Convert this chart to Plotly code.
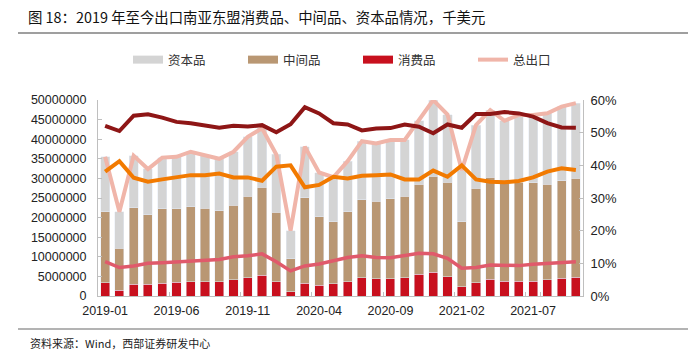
import plotly.graph_objects as go

months = ["2019-01","2019-02","2019-03","2019-04","2019-05","2019-06","2019-07","2019-08","2019-09","2019-10","2019-11","2019-12",
          "2020-01","2020-02","2020-03","2020-04","2020-05","2020-06","2020-07","2020-08","2020-09","2020-10","2020-11","2020-12",
          "2021-01","2021-02","2021-03","2021-04","2021-05","2021-06","2021-07","2021-08","2021-09","2021-10"]
tick_labels = ["2019-01","2019-06","2019-11","2020-04","2020-09","2021-02","2021-07"]

# 千美元
consumer = [3400000,1500000,3000000,3000000,3200000,3500000,3600000,3700000,3600000,4100000,4700000,5300000,
            3700000,1100000,3300000,2800000,3100000,3700000,4700000,4400000,4400000,4700000,5500000,6000000,
            4900000,2400000,3400000,4300000,3800000,3800000,3800000,4200000,4500000,4800000]
intermediate = [18100000,10700000,19500000,17700000,19100000,18700000,19200000,18700000,18100000,19100000,20800000,22400000,
                17700000,8400000,21800000,17400000,15900000,17800000,19800000,19800000,20400000,20800000,23000000,24600000,
                24100000,16600000,24100000,26000000,25400000,25200000,25100000,24300000,24900000,25200000]
capital = [14000000,9300000,13300000,11700000,13000000,13300000,14000000,13500000,13300000,13600000,15100000,15100000,
           14700000,7200000,13000000,11300000,11300000,12900000,15000000,14700000,15000000,14300000,16200000,19400000,
           17300000,13100000,16100000,17100000,15500000,17200000,17300000,18100000,18900000,19200000]
total = [35500000,21500000,35800000,32400000,35300000,35500000,36800000,35900000,35000000,36800000,40600000,42800000,
         36100000,16700000,38100000,31500000,30300000,34400000,39500000,38900000,39800000,39800000,44700000,50000000,
         46300000,32100000,43600000,47400000,44700000,46200000,46200000,46600000,48300000,49200000]

# shares (%) on right axis
share_intermediate = [52.1,50.5,55.2,55.6,54.6,53.3,52.9,52.3,51.5,52.1,51.9,52.3,50.1,52.6,57.8,55.9,52.9,52.5,50.7,51.3,
                      51.4,52.5,51.8,49.8,52.5,51.5,55.7,55.7,56.3,55.9,54.9,52.9,51.6,51.5]
share_capital = [38.1,41.3,36.2,35.0,35.7,36.5,37.0,37.0,37.5,36.3,36.3,35.3,39.6,40.0,33.3,34.0,36.5,36.0,36.8,37.0,
                 37.2,35.7,35.7,38.4,36.5,40.0,35.7,35.0,34.8,35.2,36.3,38.1,39.1,38.6]
share_consumer = [10.5,8.7,9.2,10.0,10.2,10.5,10.6,11.0,11.2,12.0,12.3,12.9,10.5,7.7,9.2,9.8,10.8,11.8,12.3,11.8,
                  11.7,12.5,13.1,12.9,11.5,8.5,8.7,9.5,9.3,9.3,9.7,10.0,10.2,10.5]

C_GRAY = "#d4d4d4"
C_TAN = "#b99773"
C_RED = "#c8101e"
C_PINK = "#f0b5a9"
C_DARK = "#8e1616"
C_ORANGE = "#f27a00"
C_REDLINE = "#e05a6b"

fig = go.Figure()
fig.add_trace(go.Bar(x=months, y=consumer, marker_color=C_RED, showlegend=False, name="消费品"))
fig.add_trace(go.Bar(x=months, y=intermediate, marker_color=C_TAN, showlegend=False, name="中间品"))
fig.add_trace(go.Bar(x=months, y=capital, marker_color=C_GRAY, showlegend=False, name="资本品"))
fig.add_trace(go.Scatter(x=months, y=total, mode="lines", line=dict(color=C_PINK, width=4), showlegend=False, name="总出口"))
fig.add_trace(go.Scatter(x=months, y=[v/100 for v in share_intermediate], yaxis="y2", mode="lines",
                         line=dict(color=C_DARK, width=4), showlegend=False))
fig.add_trace(go.Scatter(x=months, y=[v/100 for v in share_capital], yaxis="y2", mode="lines",
                         line=dict(color=C_ORANGE, width=4), showlegend=False))
fig.add_trace(go.Scatter(x=months, y=[v/100 for v in share_consumer], yaxis="y2", mode="lines",
                         line=dict(color=C_REDLINE, width=3.5), showlegend=False))

# legend entries
for nm, col, w in [("资本品", C_GRAY, 8), ("中间品", C_TAN, 8), ("消费品", C_RED, 8), ("总出口", C_PINK, 4)]:
    fig.add_trace(go.Scatter(x=[months[0]], y=[None], mode="lines", line=dict(color=col, width=w), name=nm, showlegend=True))

L, R, T, B = 98, 105, 100, 63
PW, PH = 688 - L - R, 359 - T - B

def px_x(p):
    return (p - L) / PW

def px_y(p):
    return (359 - B - p) / PH

fig.update_layout(
    width=688, height=359,
    margin=dict(l=L, r=R, t=T, b=B, autoexpand=False),
    paper_bgcolor="white", plot_bgcolor="white",
    barmode="stack", bargap=0.36,
    font=dict(family="Liberation Sans, Arial", color="#222222"),
    title=dict(text="图 18：2019 年至今出口南亚东盟消费品、中间品、资本品情况，千美元",
               x=28/688, xanchor="left", y=1 - 18/359, yanchor="middle",
               font=dict(family="Noto Sans CJK SC", size=14.4, color="#111111")),
    legend=dict(orientation="h", traceorder="normal", x=px_x(128), xanchor="left", y=px_y(60), yanchor="middle",
                entrywidth=70, font=dict(family="Noto Sans CJK SC", size=12.5, color="#333333"),
                bgcolor="rgba(0,0,0,0)", tracegroupgap=0),
    xaxis=dict(type="category", tickmode="array", tickvals=tick_labels, ticktext=tick_labels, tickangle=0,
               automargin=False, ticklabelstandoff=3,
               showline=True, linecolor="#bfbfbf", linewidth=1, ticks="inside", ticklen=4,
               tickcolor="#bfbfbf", tickson="boundaries", showgrid=False, zeroline=False,
               tickfont=dict(size=12.5, color="#222222"), range=[-0.5, len(months) - 0.5]),
    yaxis=dict(range=[0, 50000000], dtick=5000000, tickformat="d", showline=True, linecolor="#bfbfbf",
               automargin=False, ticklabelstandoff=8,
               linewidth=1, ticks="inside", ticklen=4, tickcolor="#bfbfbf", showgrid=False, zeroline=False,
               tickfont=dict(size=12.5, color="#222222")),
    yaxis2=dict(range=[0, 0.6], dtick=0.1, tickformat=".0%", overlaying="y", side="right", showline=True,
                automargin=False, ticklabelstandoff=4,
                linecolor="#bfbfbf", linewidth=1, ticks="inside", ticklen=4, tickcolor="#bfbfbf",
                showgrid=False, zeroline=False, tickfont=dict(size=13, color="#222222")),
    shapes=[
        dict(type="line", xref="paper", yref="paper", x0=px_x(18), x1=px_x(688), y0=px_y(33), y1=px_y(33),
             line=dict(color="#7f7f7f", width=1.5)),
        dict(type="line", xref="paper", yref="paper", x0=px_x(18), x1=px_x(688), y0=px_y(329), y1=px_y(329),
             line=dict(color="#9a9a9a", width=1.5)),
    ],
    annotations=[
        dict(text="资料来源：Wind，西部证券研发中心", xref="paper", yref="paper", x=px_x(28), y=px_y(343),
             xanchor="left", yanchor="middle", showarrow=False,
             font=dict(family="Noto Sans CJK SC", size=11, color="#222222")),
    ],
)

fig.write_html("out.html", config={"displayModeBar": False},
               post_script="document.body.style.margin='0';document.body.style.padding='0';")
